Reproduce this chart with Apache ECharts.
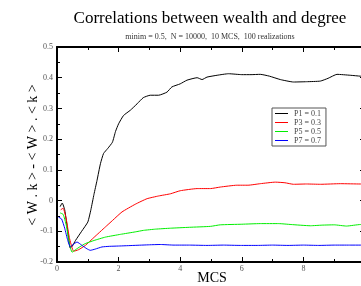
<!DOCTYPE html>
<html><head><meta charset="utf-8">
<script src="https://cdn.jsdelivr.net/npm/echarts@6/dist/echarts.min.js"></script>
<style>html,body{margin:0;padding:0;background:#fff}#c{width:361px;height:286px}</style>
</head><body><div id="c"></div>
<script>
const seriesNames = ['P1 = 0.1','P3 = 0.3','P5 = 0.5','P7 = 0.7'];
const seriesColors = ['#000000','#ff0000','#00ee00','#0000ff'];
const p1X = [0.1,0.17,0.25,0.35,0.43,0.5,0.6,0.8,1.0,1.1,1.2,1.3,1.41,1.51,1.65,1.8,1.9,2.0,2.16,2.38,2.6,2.8,3.03,3.3,3.57,3.73,4.0,4.22,4.55,4.71,4.87,5.2,5.57,6.0,6.3,6.6,6.9,7.25,7.68,8.1,8.55,8.8,9.09,9.52,9.85,10];
const p1Y = [-0.02,-0.008,-0.03,-0.1,-0.155,-0.148,-0.13,-0.1,-0.07,-0.03,0.02,0.066,0.12,0.153,0.17,0.19,0.225,0.25,0.277,0.294,0.315,0.335,0.343,0.343,0.353,0.37,0.38,0.392,0.4,0.394,0.402,0.408,0.413,0.41,0.41,0.411,0.405,0.394,0.386,0.387,0.389,0.398,0.411,0.408,0.405,0.404];
const p3X = [0.12,0.2,0.3,0.4,0.54,0.7,0.92,1.2,1.57,1.8,2.11,2.54,2.92,3.3,3.68,4.0,4.55,4.98,5.3,5.84,6.2,6.6,7.09,7.4,7.68,8.1,8.55,9.2,9.85,10];
const p3Y = [-0.03,-0.025,-0.06,-0.12,-0.165,-0.16,-0.146,-0.12,-0.086,-0.065,-0.037,-0.012,0.006,0.015,0.022,0.032,0.039,0.039,0.044,0.05,0.05,0.055,0.06,0.058,0.053,0.054,0.053,0.055,0.054,0.054];
const p5X = [0.1,0.2,0.3,0.4,0.49,0.6,0.75,0.92,1.2,1.57,2.06,2.54,2.81,3.2,3.68,4.3,4.98,5.3,6.0,6.6,7.2,7.6,8.23,8.6,9.0,9.4,9.85,10];
const p5Y = [-0.04,-0.045,-0.08,-0.14,-0.168,-0.16,-0.15,-0.14,-0.13,-0.119,-0.11,-0.102,-0.097,-0.093,-0.09,-0.087,-0.084,-0.079,-0.077,-0.075,-0.075,-0.078,-0.082,-0.08,-0.079,-0.083,-0.078,-0.078];
const p7X = [0.05,0.15,0.25,0.35,0.43,0.5,0.65,0.8,0.97,1.08,1.24,1.46,1.7,2.0,2.5,3.0,3.35,3.8,4.3,4.87,5.4,5.95,6.5,7.0,7.5,8.0,8.5,9.0,9.5,10];
const p7Y = [-0.054,-0.06,-0.09,-0.13,-0.151,-0.145,-0.135,-0.145,-0.157,-0.162,-0.158,-0.151,-0.149,-0.148,-0.146,-0.144,-0.143,-0.145,-0.145,-0.146,-0.145,-0.146,-0.146,-0.145,-0.146,-0.145,-0.146,-0.145,-0.145,-0.145];
const titleText = 'Correlations between wealth and degree';
const subtitleText = 'minim = 0.5,  N = 10000,  10 MCS,  100 realizations';
const xName = 'MCS';
const yName = '< W . k > - < W > . < k >';

const xs = [p1X,p3X,p5X,p7X], ys = [p1Y,p3Y,p5Y,p7Y];
const serif = '"Liberation Serif","Times New Roman",serif';
const chart = echarts.init(document.getElementById('c'), null, {renderer:'canvas'});
const axisCommon = {
  axisLine:{show:true,onZero:false,lineStyle:{color:'#000',width:2}},
  axisTick:{show:true,inside:true,length:5,lineStyle:{color:'#000',width:1}},
  minorTick:{show:true,splitNumber:2,length:3,lineStyle:{color:'#000',width:1}},
  splitLine:{show:false}
};
chart.setOption({
  animation:false,
  backgroundColor:'#fff',
  grid:{left:57,top:47,width:308,height:215,outerBoundsMode:'none',containLabel:false},
  xAxis:[
    Object.assign({type:'value',min:0,max:10,interval:2,position:'bottom',
      axisLabel:{fontSize:8,fontFamily:serif,color:'#555',margin:3}}, axisCommon),
    Object.assign({type:'value',min:0,max:10,interval:2,position:'top',
      axisLabel:{show:false}}, axisCommon)
  ],
  yAxis:[
    Object.assign({type:'value',min:-0.2,max:0.5,interval:0.1,position:'left',
      axisLabel:{fontSize:8,fontFamily:serif,color:'#555',margin:4}}, axisCommon),
    Object.assign({type:'value',min:-0.2,max:0.5,interval:0.1,position:'right',
      axisLabel:{show:false}}, axisCommon)
  ],
  legend:{
    orient:'vertical',left:272,top:108,
    padding:[1,5,1,3],itemGap:0,itemWidth:13,itemHeight:1,icon:'rect',
    borderColor:'#555',borderWidth:1,backgroundColor:'#fff',
    textStyle:{fontSize:8,lineHeight:9,fontFamily:serif,color:'#444',padding:[0,0,0,1]},
    data:seriesNames
  },
  graphic:[
    {type:'text',x:210,y:10,style:{text:titleText,font:'17px '+serif,fill:'#000',textAlign:'center'}},
    {type:'text',x:210,y:33,style:{text:subtitleText,font:'8px '+serif,fill:'#333',textAlign:'center'}},
    {type:'text',x:212,y:271,style:{text:xName,font:'14px '+serif,fill:'#000',textAlign:'center'}},
    {type:'text',x:33,y:155,rotation:Math.PI/2,style:{text:yName,font:'14px '+serif,fill:'#000',textAlign:'center',textVerticalAlign:'middle'}}
  ],
  series:seriesNames.map((n,i)=>({
    name:n,type:'line',symbol:'none',smooth:0.15,
    lineStyle:{width:1,color:seriesColors[i]},itemStyle:{color:seriesColors[i]},
    data:xs[i].map((x,j)=>[x,ys[i][j]])
  }))
});
</script></body></html>
